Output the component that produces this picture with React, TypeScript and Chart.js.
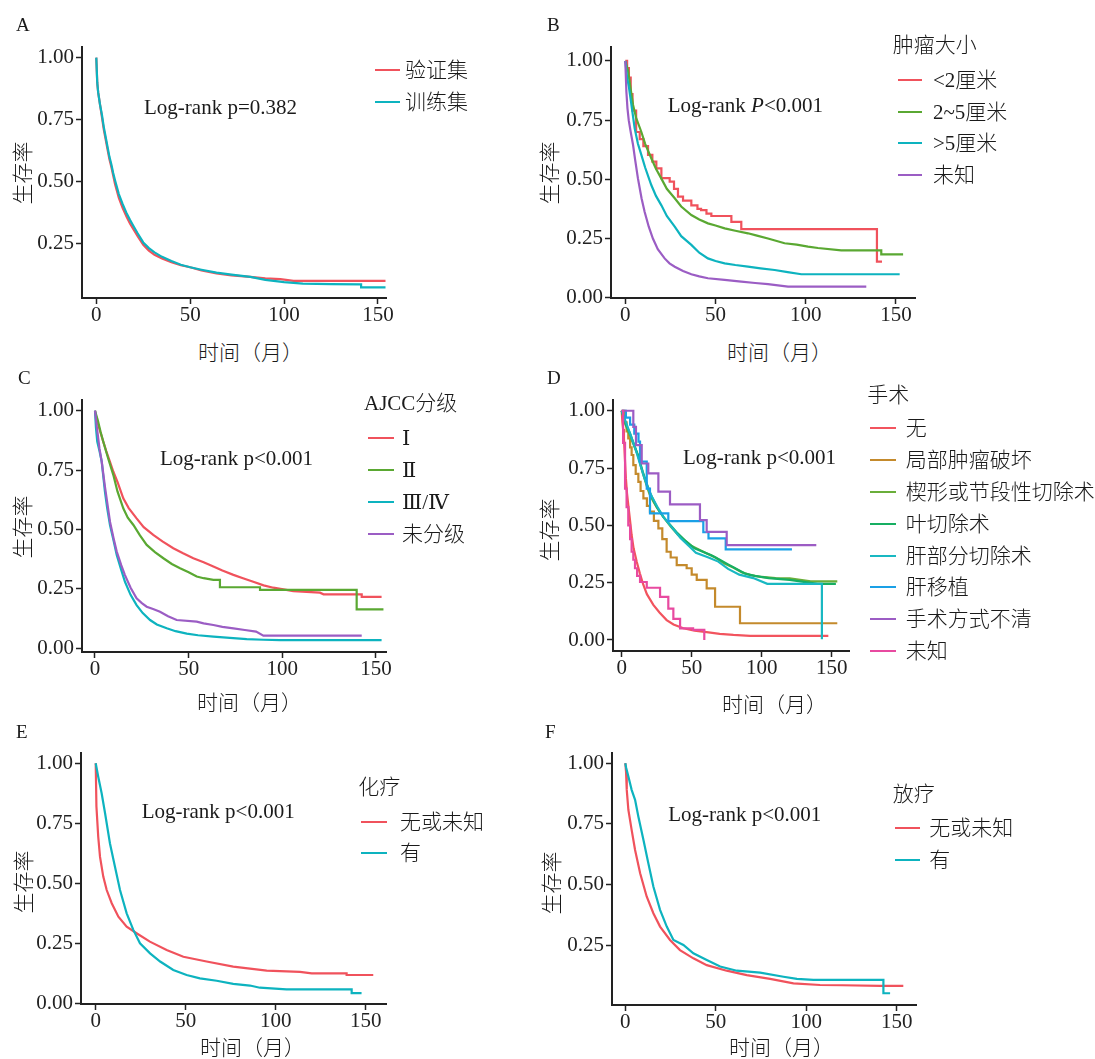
import React, { useEffect, useRef } from "react";
import { Chart, registerables } from "chart.js";

Chart.register(...registerables);

const SERIF = "'Liberation Serif', 'Times New Roman', 'DejaVu Serif', 'Noto Sans CJK SC', serif";
const TEXT = "#1a1a1a";

// ---------- tick labels ----------
const X_TICKS = [0, 50, 100, 150];
const Y_TICKS_ZERO = [0, 0.25, 0.5, 0.75, 1];
const Y_TICKS_NOZERO = [0.25, 0.5, 0.75, 1];

// ---------- A: 验证集 / 训练集 ----------
const A_VALID_T = [0, 0.5, 1, 2, 3, 4, 5, 6, 7, 8, 9, 10, 12, 14, 16, 18, 20, 22, 25, 28, 31, 35, 40, 45, 50, 56, 64, 72, 82, 90, 98, 105, 154];
const A_VALID_S = [1.0, 0.9, 0.86, 0.81, 0.76, 0.71, 0.67, 0.63, 0.59, 0.56, 0.525, 0.49, 0.435, 0.395, 0.36, 0.33, 0.305, 0.28, 0.245, 0.222, 0.205, 0.19, 0.175, 0.163, 0.155, 0.142, 0.13, 0.122, 0.116, 0.11, 0.107, 0.1, 0.1];
const A_TRAIN_T = [0, 0.5, 1, 2, 3, 4, 5, 6, 7, 8, 9, 10, 12, 14, 16, 18, 20, 22, 25, 28, 31, 35, 40, 45, 50, 56, 64, 72, 82, 90, 100, 110, 125, 141, 141, 154];
const A_TRAIN_S = [1.0, 0.9, 0.86, 0.81, 0.77, 0.72, 0.68, 0.64, 0.6, 0.57, 0.535, 0.505, 0.45, 0.41, 0.375, 0.345, 0.318, 0.292, 0.255, 0.232, 0.215, 0.197, 0.18, 0.165, 0.155, 0.145, 0.133, 0.125, 0.116, 0.104, 0.095, 0.089, 0.087, 0.086, 0.074, 0.074];

// ---------- B: 肿瘤大小 ----------
const B_LT2_T = [0, 1, 2, 3, 4, 6, 8, 10, 12.6, 15, 17.2, 20, 24.6, 27, 29.2, 32, 36.6, 40, 42, 45, 47.7, 58.8, 64.3, 139.5, 142.3];
const B_LT2_S = [1.0, 0.97, 0.93, 0.86, 0.79, 0.7, 0.67, 0.64, 0.603, 0.575, 0.546, 0.505, 0.49, 0.46, 0.427, 0.41, 0.39, 0.375, 0.37, 0.355, 0.345, 0.32, 0.29, 0.152, 0.152];
const B_2TO5_T = [0, 1.5, 3, 4.3, 6, 8.9, 11, 14.4, 17, 20, 23, 27.4, 31, 36.6, 41, 45.8, 50, 55.1, 61, 68, 73, 79.1, 88.3, 95, 101.3, 106.8, 119.7, 141.9, 141.9, 154];
const B_2TO5_S = [1.0, 0.96, 0.88, 0.814, 0.76, 0.7, 0.65, 0.589, 0.545, 0.503, 0.46, 0.42, 0.385, 0.349, 0.33, 0.314, 0.305, 0.293, 0.283, 0.272, 0.262, 0.25, 0.23, 0.224, 0.216, 0.21, 0.2, 0.2, 0.183, 0.183];
const B_GT5_T = [0, 1, 2, 3.3, 5.2, 7, 8.9, 11, 14.4, 17, 20, 23, 27.4, 31, 36.6, 41, 45.8, 50, 55.1, 61, 68, 75, 82.8, 90, 97.6, 152.1];
const B_GT5_S = [1.0, 0.93, 0.89, 0.82, 0.715, 0.65, 0.603, 0.55, 0.476, 0.43, 0.39, 0.345, 0.3, 0.26, 0.223, 0.19, 0.166, 0.155, 0.145, 0.138, 0.131, 0.124, 0.117, 0.108, 0.099, 0.099];
const B_UNK_T = [0, 0.6, 1.2, 1.9, 3, 4.3, 5.5, 7, 9, 10.7, 13, 15.3, 18, 21.8, 24.5, 27.4, 32, 36.6, 41, 45.8, 55, 64.3, 72, 79.1, 90.2, 133.6];
const B_UNK_S = [1.0, 0.87, 0.8, 0.75, 0.7, 0.645, 0.58, 0.504, 0.42, 0.363, 0.3, 0.25, 0.205, 0.166, 0.145, 0.131, 0.113, 0.099, 0.09, 0.082, 0.075, 0.068, 0.062, 0.057, 0.047, 0.047];

// ---------- C: AJCC分级 ----------
const C_I_T = [0, 1, 2.5, 4.4, 6, 8, 9.8, 12, 15.1, 18, 22.2, 26, 31.1, 36, 41.8, 47, 52.5, 58, 63.2, 68, 73.9, 79, 84.5, 90, 95.2, 105.9, 120.1, 122, 142.4, 142.4, 153];
const C_I_S = [1.0, 0.96, 0.92, 0.87, 0.83, 0.785, 0.743, 0.7, 0.631, 0.59, 0.547, 0.51, 0.477, 0.45, 0.421, 0.4, 0.379, 0.362, 0.344, 0.327, 0.309, 0.295, 0.28, 0.265, 0.255, 0.241, 0.234, 0.227, 0.227, 0.216, 0.216];
const C_II_T = [0, 1.5, 3, 4.4, 7, 9.8, 12, 15.1, 17.5, 20.5, 24, 27.6, 32, 36.5, 41, 45.4, 50, 54.3, 58, 63.2, 66.7, 66.7, 88.1, 88.1, 139.7, 139.7, 154];
const C_II_S = [1.0, 0.96, 0.91, 0.87, 0.8, 0.729, 0.66, 0.589, 0.55, 0.519, 0.475, 0.435, 0.405, 0.379, 0.355, 0.337, 0.32, 0.302, 0.295, 0.288, 0.288, 0.257, 0.257, 0.246, 0.246, 0.164, 0.164];
const C_III_T = [0, 0.5, 1.2, 2.4, 3.6, 5.3, 6.5, 8, 10, 11.6, 14, 16, 19, 22.2, 25.5, 29.4, 33, 38.3, 43, 49, 55, 63.2, 72, 81, 90, 98.8, 153];
const C_III_S = [1.0, 0.93, 0.87, 0.83, 0.785, 0.659, 0.59, 0.519, 0.45, 0.393, 0.33, 0.28, 0.225, 0.182, 0.148, 0.119, 0.1, 0.084, 0.072, 0.062, 0.055, 0.049, 0.044, 0.039, 0.036, 0.034, 0.034];
const C_NA_T = [0, 1, 2.4, 3.6, 5.3, 8, 10, 11.6, 14, 16, 19, 22.2, 25, 27.6, 31, 34.7, 39, 43.6, 54.3, 58, 63.2, 68, 73.9, 80, 86, 89.9, 142.4];
const C_NA_S = [1.0, 0.93, 0.84, 0.785, 0.68, 0.533, 0.46, 0.407, 0.35, 0.308, 0.255, 0.21, 0.19, 0.175, 0.165, 0.154, 0.135, 0.119, 0.112, 0.105, 0.098, 0.09, 0.084, 0.077, 0.07, 0.053, 0.053];

// ---------- D: 手术 ----------
const D_NONE_T = [0, 0.5, 1, 1.6, 2.3, 3, 3.8, 4.7, 6, 7.1, 8.5, 10.7, 13, 15.5, 18, 22.6, 27, 32.1, 37, 44, 52, 60.7, 70, 79.8, 91.7, 147.6];
const D_NONE_S = [1.0, 0.95, 0.92, 0.88, 0.79, 0.705, 0.64, 0.589, 0.52, 0.458, 0.4, 0.342, 0.29, 0.24, 0.2, 0.153, 0.12, 0.087, 0.068, 0.051, 0.041, 0.034, 0.027, 0.022, 0.018, 0.018];
const D_ABL_T = [0, 2, 3.5, 4.7, 6, 7.1, 8.3, 10, 11.9, 13.5, 15.5, 18, 20.2, 23, 26.2, 29, 32.1, 35, 39.3, 46.4, 50, 53.6, 60.7, 66.7, 84.5, 154];
const D_ABL_S = [1.0, 0.95, 0.91, 0.88, 0.84, 0.807, 0.763, 0.725, 0.69, 0.65, 0.618, 0.585, 0.56, 0.52, 0.487, 0.44, 0.385, 0.36, 0.327, 0.313, 0.285, 0.262, 0.225, 0.145, 0.073, 0.073];
const D_WEDGE_T = [0, 2, 4, 6, 8, 10, 12, 14, 16, 18, 20, 23, 26, 30, 35, 40, 45, 50, 55, 60, 67, 73, 80, 86, 92, 100, 110, 120, 135, 154];
const D_WEDGE_S = [1.0, 0.95, 0.92, 0.89, 0.86, 0.83, 0.8, 0.75, 0.71, 0.67, 0.635, 0.6, 0.57, 0.535, 0.495, 0.46, 0.435, 0.41, 0.395, 0.38, 0.36, 0.335, 0.315, 0.295, 0.283, 0.275, 0.27, 0.269, 0.256, 0.256];
const D_LOBE_T = [0, 3, 6, 9, 12, 15, 18, 21, 25, 30, 35, 40, 46, 52, 58, 64, 70, 76, 82, 88, 95, 105, 120, 140, 153];
const D_LOBE_S = [1.0, 0.94, 0.9, 0.85, 0.8, 0.735, 0.68, 0.63, 0.58, 0.535, 0.5, 0.465, 0.43, 0.4, 0.385, 0.37, 0.35, 0.33, 0.31, 0.29, 0.28, 0.27, 0.262, 0.245, 0.245];
const D_PART_T = [0, 3, 6, 10, 13, 16, 19, 22, 26, 30, 36, 42, 48, 53, 62, 69, 76, 84, 94, 104, 143, 143];
const D_PART_S = [1.0, 0.95, 0.9, 0.83, 0.77, 0.71, 0.66, 0.62, 0.575, 0.535, 0.49, 0.445, 0.41, 0.38, 0.36, 0.342, 0.31, 0.285, 0.27, 0.245, 0.245, 0.003];
const D_TX_T = [0, 3, 6, 9, 12, 13.1, 17.9, 20.2, 33.3, 58.3, 62, 74.3, 121.6];
const D_TX_S = [1.0, 0.97, 0.94, 0.9, 0.865, 0.778, 0.66, 0.552, 0.519, 0.47, 0.443, 0.395, 0.395];
const D_UNCLEAR_T = [0, 8.3, 10.2, 14.3, 19, 26.2, 34.5, 55.9, 60.7, 75, 139];
const D_UNCLEAR_S = [1.0, 0.93, 0.85, 0.77, 0.727, 0.647, 0.592, 0.523, 0.472, 0.414, 0.414];
const D_UNK_T = [0, 1, 2.4, 3.5, 4.7, 6, 7.1, 8.3, 9.5, 11, 13.1, 17.9, 27.4, 33.3, 36.9, 41.7, 51, 59];
const D_UNK_S = [1.0, 0.86, 0.66, 0.58, 0.5, 0.44, 0.385, 0.35, 0.313, 0.28, 0.253, 0.228, 0.188, 0.137, 0.092, 0.051, 0.044, 0.0];

// ---------- E: 化疗 ----------
const E_NO_T = [0, 0.1, 0.4, 1.4, 2.4, 4.2, 6.1, 8.9, 12.6, 17.2, 22.7, 30.1, 39.4, 48.7, 61.6, 76.4, 95, 113.5, 120, 139.4, 139.4, 154.2];
const E_NO_S = [1.0, 0.958, 0.82, 0.694, 0.61, 0.528, 0.472, 0.417, 0.361, 0.319, 0.292, 0.257, 0.222, 0.194, 0.174, 0.153, 0.136, 0.131, 0.125, 0.125, 0.118, 0.118];
const E_YES_T = [0, 1.4, 3.3, 5.2, 7.9, 10.7, 13.5, 17.2, 20.9, 24.6, 30.2, 35.8, 43.1, 50.5, 57.9, 67.2, 76.4, 85.7, 91.2, 106, 142.2, 142.2, 147.7];
const E_YES_S = [1.0, 0.944, 0.875, 0.792, 0.667, 0.569, 0.472, 0.375, 0.306, 0.25, 0.208, 0.174, 0.139, 0.118, 0.104, 0.094, 0.081, 0.074, 0.065, 0.058, 0.058, 0.042, 0.042];

// ---------- F: 放疗 ----------
const F_NO_T = [0, 0.4, 0.8, 1.7, 3.5, 5.4, 8.2, 11.8, 15.5, 19.2, 24.7, 30.2, 37.6, 45, 56, 67.1, 80, 92.9, 107.6, 120, 141, 153.6];
const F_NO_S = [1.0, 0.965, 0.89, 0.807, 0.725, 0.642, 0.546, 0.45, 0.381, 0.326, 0.271, 0.229, 0.195, 0.167, 0.144, 0.126, 0.11, 0.092, 0.085, 0.084, 0.081, 0.081];
const F_YES_T = [0, 0.5, 1.7, 3.5, 5.4, 7.2, 10, 12.7, 15.5, 19.2, 22.9, 26.6, 32.1, 37.6, 45, 52.4, 61.6, 74.5, 87.4, 94.8, 103.9, 142.6, 142.6, 146.3];
const F_YES_S = [1.0, 0.98, 0.945, 0.89, 0.849, 0.78, 0.684, 0.588, 0.491, 0.395, 0.326, 0.271, 0.25, 0.216, 0.188, 0.161, 0.144, 0.136, 0.119, 0.11, 0.106, 0.106, 0.051, 0.051];

// ---------- colours ----------
const RED = "#F0525C";
const GREEN = "#5AA832";
const CYAN = "#0DB3BF";
const PURPLE = "#9B5DC4";

type Series = { name: string; color: string; t: number[]; s: number[]; step?: boolean };
type Panel = {
  key: string;
  letter: string;
  letterPos: [number, number];
  plot: [number, number, number, number];
  xRange: [number, number];
  yRange: [number, number];
  yTicks: number[];
  series: Series[];
  logrank: React.ReactNode;
  logrankPos: [number, number];
  legendTitle?: string;
  legendTitlePos?: [number, number];
  legendLine: [number, number];
  legendTextX: number;
  legendYs: number[];
  xTitlePos: [number, number];
  yTitlePos: [number, number];
};

const PANELS: Panel[] = [
  {
    key: "A", letter: "A", letterPos: [16, 24],
    plot: [82, 47, 386, 298], xRange: [-7.61, 154.26], yRange: [0.031, 1.043], yTicks: Y_TICKS_NOZERO,
    series: [
      { name: "验证集", color: RED, t: A_VALID_T, s: A_VALID_S },
      { name: "训练集", color: CYAN, t: A_TRAIN_T, s: A_TRAIN_S },
    ],
    logrank: "Log-rank p=0.382", logrankPos: [144, 106.7],
    legendLine: [375, 400], legendTextX: 405, legendYs: [70, 101.7],
    xTitlePos: [198, 353], yTitlePos: [22.5, 173],
  },
  {
    key: "B", letter: "B", letterPos: [547, 24],
    plot: [611, 47, 915, 298], xRange: [-7.93, 160.6], yRange: [-0.0013, 1.059], yTicks: Y_TICKS_ZERO,
    series: [
      { name: "<2厘米", color: RED, t: B_LT2_T, s: B_LT2_S, step: true },
      { name: "2~5厘米", color: GREEN, t: B_2TO5_T, s: B_2TO5_S },
      { name: ">5厘米", color: CYAN, t: B_GT5_T, s: B_GT5_S },
      { name: "未知", color: PURPLE, t: B_UNK_T, s: B_UNK_S },
    ],
    logrank: <>Log-rank <i>P</i>&lt;0.001</>, logrankPos: [667.7, 105],
    legendTitle: "肿瘤大小", legendTitlePos: [892.7, 45],
    legendLine: [897.7, 922.3], legendTextX: 933, legendYs: [80, 111.7, 143.3, 175],
    xTitlePos: [727, 353], yTitlePos: [549.5, 172.5],
  },
  {
    key: "C", letter: "C", letterPos: [18, 376.7],
    plot: [82, 400, 386, 652], xRange: [-6.94, 155.36], yRange: [-0.0156, 1.045], yTicks: Y_TICKS_ZERO,
    series: [
      { name: "Ⅰ", color: RED, t: C_I_T, s: C_I_S },
      { name: "Ⅱ", color: GREEN, t: C_II_T, s: C_II_S },
      { name: "Ⅲ/Ⅳ", color: CYAN, t: C_III_T, s: C_III_S },
      { name: "未分级", color: PURPLE, t: C_NA_T, s: C_NA_S },
    ],
    logrank: "Log-rank p<0.001", logrankPos: [160, 458.3],
    legendTitle: "AJCC分级", legendTitlePos: [364, 403.3],
    legendLine: [368, 394], legendTextX: 402, legendYs: [438.3, 470, 502.3, 534],
    xTitlePos: [197, 703], yTitlePos: [23, 527],
  },
  {
    key: "D", letter: "D", letterPos: [547, 377],
    plot: [613, 400, 849, 651], xRange: [-6.21, 162.36], yRange: [-0.048, 1.047], yTicks: Y_TICKS_ZERO,
    series: [
      { name: "无", color: "#F2545E", t: D_NONE_T, s: D_NONE_S },
      { name: "局部肿瘤破坏", color: "#C48A2C", t: D_ABL_T, s: D_ABL_S, step: true },
      { name: "楔形或节段性切除术", color: "#6AAE3A", t: D_WEDGE_T, s: D_WEDGE_S },
      { name: "叶切除术", color: "#17AE62", t: D_LOBE_T, s: D_LOBE_S },
      { name: "肝部分切除术", color: "#19B8C2", t: D_PART_T, s: D_PART_S },
      { name: "肝移植", color: "#1AA0E6", t: D_TX_T, s: D_TX_S, step: true },
      { name: "手术方式不清", color: "#9C5CC4", t: D_UNCLEAR_T, s: D_UNCLEAR_S, step: true },
      { name: "未知", color: "#E84AA0", t: D_UNK_T, s: D_UNK_S, step: true },
    ],
    logrank: "Log-rank p<0.001", logrankPos: [683, 456.7],
    legendTitle: "手术", legendTitlePos: [867.3, 395],
    legendLine: [870, 896], legendTextX: 905.7,
    legendYs: [428.3, 460, 491.7, 524, 555.7, 587.3, 619.3, 650.7],
    xTitlePos: [722, 705], yTitlePos: [550, 530],
  },
  {
    key: "E", letter: "E", letterPos: [16, 731],
    plot: [81, 753, 386, 1004], xRange: [-8.17, 161.28], yRange: [-0.0029, 1.043], yTicks: Y_TICKS_ZERO,
    series: [
      { name: "无或未知", color: RED, t: E_NO_T, s: E_NO_S },
      { name: "有", color: CYAN, t: E_YES_T, s: E_YES_S },
    ],
    logrank: "Log-rank p<0.001", logrankPos: [141.7, 810.7],
    legendTitle: "化疗", legendTitlePos: [358.3, 786.7],
    legendLine: [361, 387], legendTextX: 400, legendYs: [821.7, 853.3],
    xTitlePos: [200, 1048], yTitlePos: [24, 882],
  },
  {
    key: "F", letter: "F", letterPos: [545, 731],
    plot: [612, 753, 916, 1005], xRange: [-7.35, 160.61], yRange: [0.0025, 1.042], yTicks: Y_TICKS_NOZERO,
    series: [
      { name: "无或未知", color: RED, t: F_NO_T, s: F_NO_S },
      { name: "有", color: CYAN, t: F_YES_T, s: F_YES_S },
    ],
    logrank: "Log-rank p<0.001", logrankPos: [668.3, 814.3],
    legendTitle: "放疗", legendTitlePos: [892.7, 794],
    legendLine: [895, 920], legendTextX: 929.3, legendYs: [828.3, 860],
    xTitlePos: [729, 1048], yTitlePos: [551.7, 882.5],
  },
];

const YW = 60;
const XH = 42;
const PAD_T = 20;
const PAD_R = 30;

function KMChart({ panel }: { panel: Panel }) {
  const ref = useRef<HTMLCanvasElement>(null);
  const [L, T, R, B] = panel.plot;
  const W = R - L + YW + PAD_R;
  const H = B - T + PAD_T + XH;

  useEffect(() => {
    const tickFont = { family: SERIF, size: 21, lineHeight: 1 };
    const chart = new Chart(ref.current as HTMLCanvasElement, {
      type: "line",
      data: {
        datasets: panel.series.map((s, i) => ({
          label: s.name,
          data: s.t.map((t, j) => ({ x: t, y: s.s[j] })),
          borderColor: s.color,
          backgroundColor: s.color,
          borderWidth: 2.2,
          pointRadius: 0,
          stepped: s.step ? true : false,
          tension: 0,
          fill: false,
          order: -i,
        })),
      },
      options: {
        responsive: false,
        animation: false,
        devicePixelRatio: 1,
        events: [],
        layout: { padding: { left: 0, top: PAD_T, right: PAD_R, bottom: 0 } },
        plugins: { legend: { display: false }, tooltip: { enabled: false } },
        scales: {
          x: {
            type: "linear",
            min: panel.xRange[0],
            max: panel.xRange[1],
            afterFit: (s: any) => { s.height = XH; },
            afterBuildTicks: (s: any) => { s.ticks = X_TICKS.map((v) => ({ value: v })); },
            ticks: { font: tickFont, color: "#222", padding: 1, maxRotation: 0, callback: (v: any) => String(v) },
            grid: { display: true, drawOnChartArea: false, drawTicks: true, tickLength: 6, tickWidth: 1.5, tickColor: "#222" },
            border: { display: true, color: "#222", width: 2 },
          },
          y: {
            type: "linear",
            min: panel.yRange[0],
            max: panel.yRange[1],
            afterFit: (s: any) => { s.width = YW; },
            afterBuildTicks: (s: any) => { s.ticks = panel.yTicks.map((v) => ({ value: v })); },
            ticks: { font: tickFont, color: "#222", padding: 2, callback: (v: any) => Number(v).toFixed(2) },
            grid: { display: true, drawOnChartArea: false, drawTicks: true, tickLength: 6, tickWidth: 1.5, tickColor: "#222" },
            border: { display: true, color: "#222", width: 2 },
          },
        },
      } as any,
    });
    return () => chart.destroy();
  }, []);

  return (
    <canvas
      ref={ref}
      width={W}
      height={H}
      style={{ position: "absolute", left: L - YW, top: T - PAD_T, width: W, height: H }}
    />
  );
}

function Label({ x, y, children, size = 21, family = SERIF }: any) {
  return (
    <div
      style={{
        position: "absolute",
        left: x,
        top: y,
        transform: "translateY(-50%)",
        whiteSpace: "nowrap",
        fontFamily: family,
        fontSize: size,
        fontWeight: 300,
        lineHeight: 1,
        color: TEXT,
      }}
    >
      {children}
    </div>
  );
}

function PanelView({ panel }: { panel: Panel }) {
  return (
    <>
      <KMChart panel={panel} />
      <Label x={panel.letterPos[0]} y={panel.letterPos[1]} size={19}>{panel.letter}</Label>
      <Label x={panel.logrankPos[0]} y={panel.logrankPos[1]}>{panel.logrank}</Label>
      {panel.legendTitle && panel.legendTitlePos && (
        <Label x={panel.legendTitlePos[0]} y={panel.legendTitlePos[1]}>{panel.legendTitle}</Label>
      )}
      {panel.series.map((s, i) => (
        <React.Fragment key={s.name + i}>
          <div
            style={{
              position: "absolute",
              left: panel.legendLine[0],
              width: panel.legendLine[1] - panel.legendLine[0],
              top: panel.legendYs[i] - 1,
              height: 2,
              background: s.color,
            }}
          />
          <Label x={panel.legendTextX} y={panel.legendYs[i]}>{s.name}</Label>
        </React.Fragment>
      ))}
      <Label x={panel.xTitlePos[0]} y={panel.xTitlePos[1]}>时间（月）</Label>
      <div
        style={{
          position: "absolute",
          left: panel.yTitlePos[0],
          top: panel.yTitlePos[1],
          transform: "translate(-50%, -50%) rotate(-90deg)",
          whiteSpace: "nowrap",
          fontFamily: SERIF,
          fontSize: 21,
          fontWeight: 300,
          lineHeight: 1,
          color: TEXT,
        }}
      >
        生存率
      </div>
    </>
  );
}

export default function App() {
  return (
    <div
      style={{
        position: "absolute",
        left: 0,
        top: 0,
        width: 1095,
        height: 1059,
        background: "#ffffff",
        overflow: "hidden",
      }}
    >
      {PANELS.map((p) => (
        <PanelView key={p.key} panel={p} />
      ))}
    </div>
  );
}
